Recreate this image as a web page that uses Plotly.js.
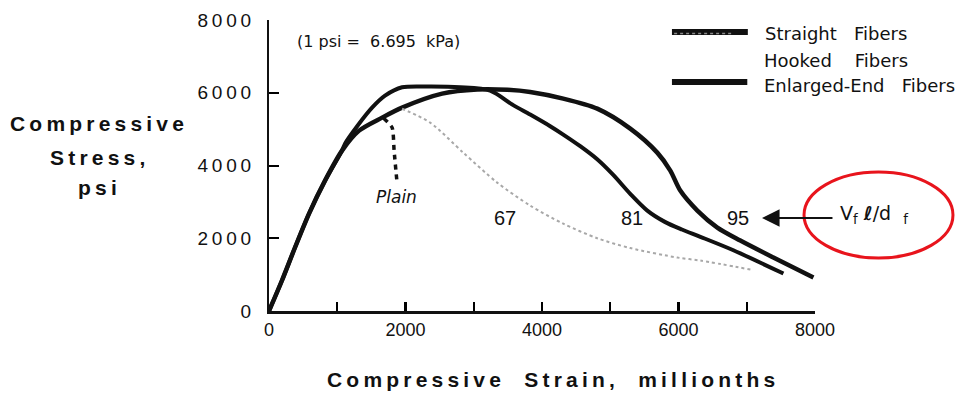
<!DOCTYPE html>
<html>
<head>
<meta charset="utf-8">
<script src="https://cdn.plot.ly/plotly-3.0.1.min.js"></script>
<style>
  html, body { margin: 0; padding: 0; background: #fff; }
  #chart { width: 963px; height: 396px; }
</style>
</head>
<body>
<div id="chart"></div>
<script>
// ---- data (strain in millionths, stress in psi) ----
const ascentStrain = [0, 190, 381, 587, 821, 1070];
const ascentStress = [0, 838, 1745, 2679, 3585, 4409];

const curve95Strain = [1320, 1657, 1950, 2537, 3050, 3500, 3827, 4311, 4809, 5293, 5689, 5880, 6026, 6276, 6569, 6906, 7390, 7977];
const curve95Stress = [4959, 5316, 5591, 5975, 6090, 6080, 6020, 5838, 5563, 5014, 4354, 3860, 3310, 2761, 2294, 1937, 1470, 920];

const curve81Strain = [1114, 1300, 1510, 1700, 1950, 2361, 2800, 3240, 3578, 3827, 4120, 4311, 4560, 4809, 5044, 5293, 5543, 5800, 6050, 6320, 6804, 7537];
const curve81Stress = [4600, 5100, 5590, 5920, 6150, 6170, 6150, 6058, 5660, 5400, 5080, 4850, 4530, 4170, 3740, 3220, 2760, 2450, 2240, 2040, 1670, 1030];

const curve67Strain = [1950, 2361, 2845, 3343, 3827, 4311, 4809, 5293, 5982, 6320, 7053];
const curve67Stress = [5560, 5179, 4354, 3530, 2898, 2400, 2000, 1730, 1470, 1387, 1140];

const plainStrain = [1680, 1804, 1833, 1877];
const plainStress = [5300, 5041, 4409, 3503];

const curveLabels = ['67', '81', '95'];
const curveLabelStrain = [3458, 5319, 6872];
const curveLabelStress = [2557, 2557, 2557];

const yTickText = ['0', '2000', '4000', '6000', '8000'];

const legendNames = ['Straight\u00a0\u00a0 Fibers', 'Hooked\u00a0\u00a0\u00a0 Fibers', 'Enlarged-End\u00a0\u00a0 Fibers'];

// ---- helpers ----
const track = s => s.split('').join('\u2009');
const NB = '\u00a0';

const black = '#111';
const traces = [
  { x: ascentStrain.concat(curve95Strain), y: ascentStress.concat(curve95Stress),
    mode: 'lines', line: { color: black, width: 4.5, shape: 'spline', smoothing: 0.8 } },
  { x: ascentStrain.concat(curve81Strain), y: ascentStress.concat(curve81Stress),
    mode: 'lines', line: { color: black, width: 4, shape: 'spline', smoothing: 0.8 } },
  { x: curve67Strain, y: curve67Stress,
    mode: 'lines', line: { color: '#a8a8a8', width: 2, dash: 'dot', shape: 'spline', smoothing: 0.8 } },
  { x: plainStrain, y: plainStress,
    mode: 'lines', line: { color: black, width: 3.5, dash: '5px,5px', shape: 'spline', smoothing: 0.6 } }
];

const annotations = [];
curveLabels.forEach((t, i) => annotations.push({
  x: curveLabelStrain[i], y: curveLabelStress[i], xref: 'x', yref: 'y', text: t, showarrow: false,
  font: { family: 'Liberation Sans, Arial, sans-serif', size: 20, color: black }
}));
annotations.push({ x: 1875, y: 3134, xref: 'x', yref: 'y', text: '<i>Plain</i>', showarrow: false,
  font: { family: 'DejaVu Sans, sans-serif', size: 17, color: black } });
annotations.push({ x: 0.0476, y: 0.9244, xref: 'paper', yref: 'paper', xanchor: 'left', yanchor: 'middle',
  text: '(1' + NB + 'psi' + NB + '=' + NB + NB + '6.695' + NB + NB + 'kPa)', showarrow: false,
  font: { family: 'DejaVu Sans, sans-serif', size: 16, color: black } });

const legY = [0.9553, 0.8625, 0.7766];
const legX = [0.9048, 0.9029, 0.9029];
legendNames.forEach((t, i) => annotations.push({
  x: legX[i], y: legY[i], xref: 'paper', yref: 'paper', xanchor: 'left', yanchor: 'middle',
  text: t, showarrow: false,
  font: { family: 'DejaVu Sans, sans-serif', size: 18, color: black }
}));

annotations.push({ x: 7223, y: 2557, xref: 'x', yref: 'y', text: '', showarrow: true,
  ax: 72, ay: 0, arrowhead: 2, arrowsize: 1.6, arrowwidth: 2.2, arrowcolor: black, standoff: 0 });
annotations.push({ x: 1.0421, y: 0.33, xref: 'paper', yref: 'paper', xanchor: 'left', yanchor: 'middle',
  text: 'V<sub>f</sub>' + NB + '<b>ℓ</b>/d' + NB + NB + '<sub>f</sub>', showarrow: false,
  font: { family: 'DejaVu Sans, sans-serif', size: 19, color: black } });

const titleFont = { family: 'Liberation Sans, Arial, sans-serif', size: 21, color: black, weight: 'bold' };
[['Compressive', 0.646], ['Stress,', 0.529], ['psi', 0.426]].forEach(([t, y]) => annotations.push({
  x: -0.315, y: y, xref: 'paper', yref: 'paper', xanchor: 'center', yanchor: 'middle',
  text: '<b>' + track(t) + '</b>', showarrow: false, font: titleFont
}));
annotations.push({ x: 0.5165, y: -0.237, xref: 'paper', yref: 'paper', xanchor: 'center', yanchor: 'middle',
  text: '<b>' + track('Compressive') + NB + NB + NB + NB + track('Strain,') + NB + NB + NB + NB + track('millionths') + '</b>',
  showarrow: false, font: titleFont });

const shapes = [
  { type: 'line', xref: 'paper', yref: 'paper', x0: 0.738, x1: 0.877, y0: 0.9588, y1: 0.9588, line: { color: black, width: 6 } },
  { type: 'line', xref: 'paper', yref: 'paper', x0: 0.742, x1: 0.850, y0: 0.954, y1: 0.954, line: { color: '#8a8a8a', width: 1.5, dash: 'dot' } },
  { type: 'line', xref: 'paper', yref: 'paper', x0: 0.738, x1: 0.876, y0: 0.7869, y1: 0.7869, line: { color: black, width: 6 } },
  { type: 'circle', xref: 'paper', yref: 'paper', x0: 0.9799, x1: 1.2527, y0: 0.1821, y1: 0.4777,
    line: { color: '#e8141c', width: 3 } }
];

const yAlias = {};
yTickText.forEach(t => { yAlias[t] = track(t); });

const layout = {
  width: 963, height: 396,
  margin: { l: 269, r: 148, t: 20, b: 85 },
  paper_bgcolor: '#fff', plot_bgcolor: 'rgba(0,0,0,0)',
  showlegend: false,
  xaxis: {
    range: [0, 8000], tickmode: 'linear', tick0: 0, dtick: 2000,
    ticks: 'inside', ticklen: 9, tickwidth: 2, tickcolor: '#000',
    minor: { tick0: -1, dtick: 1000, ticks: 'inside', ticklen: 9, tickwidth: 2, tickcolor: '#000', showgrid: false },
    showline: true, linewidth: 3, linecolor: black, showgrid: false, zeroline: false,
    tickfont: { family: 'Liberation Sans, Arial, sans-serif', size: 18, color: black }
  },
  yaxis: {
    range: [0, 8000], tickmode: 'linear', tick0: 0, dtick: 2000, labelalias: yAlias,
    ticks: 'inside', ticklen: 10, tickwidth: 2, tickcolor: '#000',
    minor: { tick0: -1, dtick: 2000, ticks: 'inside', ticklen: 10, tickwidth: 2, tickcolor: '#000', showgrid: false },
    showline: true, linewidth: 2, linecolor: black, showgrid: false, zeroline: false,
    ticklabelstandoff: 12,
    tickfont: { family: 'Liberation Sans, Arial, sans-serif', size: 19, color: black }
  },
  annotations: annotations,
  shapes: shapes
};

Plotly.newPlot('chart', traces, layout, { displayModeBar: false, staticPlot: true });
</script>
</body>
</html>
